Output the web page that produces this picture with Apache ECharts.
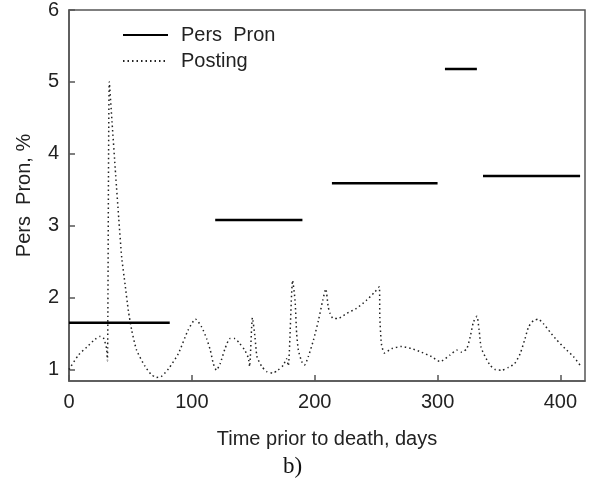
<!DOCTYPE html>
<html>
<head>
<meta charset="utf-8">
<script src="https://cdn.jsdelivr.net/npm/echarts@6/dist/echarts.min.js"></script>
<style>
html,body{margin:0;padding:0;background:#fff;}
#chart{width:598px;height:479px;}
</style>
</head>
<body>
<div id="chart"></div>
<script>
// Data
const xTicks = [0, 100, 200, 300, 400];
const yTicks = [1, 2, 3, 4, 5, 6];

// Pers Pron: horizontal segments [start, end, value]
const persPronStart = [0, 119, 214, 306, 337];
const persPronEnd   = [82, 190, 300, 332, 416];
const persPronValue = [1.65, 3.08, 3.59, 5.18, 3.69];

// Posting curve
const postingX = [0, 7.6, 14.4, 21.2, 25.2, 28, 30.5, 31.3, 32.8, 35, 38, 40.5, 42.9, 45.6, 48.3, 51, 55, 62, 67, 71, 75, 81, 89, 97, 103, 108, 112, 115, 117.5, 120, 123, 127, 131, 135, 139, 143, 146, 147, 149.3, 151.4, 153, 157, 161, 166, 170, 174.5, 177, 178.5, 182, 184, 185.3, 186.7, 189.4, 191.6, 194.8, 199, 203, 206.5, 209, 211, 212.5, 215, 219, 226, 234, 242, 249, 252.6, 253, 254.3, 256.7, 262.6, 270.8, 279, 287, 295, 302, 310, 315.6, 319.7, 323.8, 326.5, 329.2, 332, 333.8, 335.4, 338.7, 342.8, 346.8, 352.3, 357.7, 362.6, 367.2, 371.2, 374, 378, 382, 386, 391.6, 397, 403.8, 410.6, 416];
const postingY = [1.0, 1.2, 1.31, 1.42, 1.46, 1.44, 1.3, 1.12, 5.0, 4.45, 3.7, 3.1, 2.56, 2.19, 1.82, 1.55, 1.27, 1.04, 0.93, 0.89, 0.9, 1.01, 1.22, 1.55, 1.7, 1.59, 1.43, 1.27, 1.08, 0.99, 1.08, 1.29, 1.43, 1.43, 1.36, 1.27, 1.16, 1.04, 1.72, 1.45, 1.18, 1.04, 0.97, 0.95, 0.99, 1.06, 1.15, 1.05, 2.24, 1.96, 1.5, 1.27, 1.11, 1.06, 1.18, 1.41, 1.68, 1.96, 2.12, 1.87, 1.78, 1.71, 1.71, 1.78, 1.85, 1.96, 2.08, 2.15, 1.73, 1.36, 1.23, 1.29, 1.32, 1.29, 1.24, 1.18, 1.11, 1.2, 1.27, 1.24, 1.29, 1.45, 1.66, 1.74, 1.55, 1.31, 1.18, 1.06, 1.0, 0.99, 1.03, 1.08, 1.22, 1.43, 1.59, 1.68, 1.7, 1.64, 1.52, 1.41, 1.29, 1.18, 1.06];

const persPronData = [];
for (let i = 0; i < persPronStart.length; i++) {
  if (i > 0) persPronData.push([persPronStart[i], '-']);
  persPronData.push([persPronStart[i], persPronValue[i]]);
  persPronData.push([persPronEnd[i], persPronValue[i]]);
}
const postingData = postingX.map((x, i) => [x, postingY[i]]);

const FONT = 'Liberation Sans, Arial, sans-serif';
const AX = '#555';
const chart = echarts.init(document.getElementById('chart'), null, {renderer: 'canvas'});
chart.setOption({
  animation: false,
  backgroundColor: '#fff',
  grid: {left: 69, right: 13, top: 9, bottom: 98, show: true, borderColor: AX, borderWidth: 1.5, backgroundColor: 'transparent'},
  legend: {
    orient: 'vertical', left: 122, top: 25, itemWidth: 45, itemHeight: 14, itemGap: 6, padding: 0,
    itemStyle: {opacity: 0},
    textStyle: {fontFamily: FONT, fontSize: 20, color: '#222', padding: [0, 0, 0, 8]},
    data: ['Pers  Pron', 'Posting']
  },
  xAxis: {
    type: 'value', min: 0, max: 420,
    name: 'Time prior to death, days', nameLocation: 'middle', nameGap: 48,
    nameTextStyle: {fontFamily: FONT, fontSize: 20, color: '#222'},
    axisLine: {show: true, lineStyle: {color: AX, width: 1.5}},
    axisTick: {show: true, inside: true, length: 6, customValues: xTicks, lineStyle: {color: AX, width: 1.5}},
    axisLabel: {margin: 11, customValues: xTicks, fontFamily: FONT, fontSize: 20, color: '#222'},
    splitLine: {show: false}
  },
  yAxis: {
    type: 'value', min: 0.84, max: 6,
    name: 'Pers  Pron, %', nameLocation: 'middle', nameGap: 35,
    nameTextStyle: {fontFamily: FONT, fontSize: 20, color: '#222'},
    axisLine: {show: true, lineStyle: {color: AX, width: 1.5}},
    axisTick: {show: true, inside: true, length: 6, customValues: yTicks, lineStyle: {color: AX, width: 1.5}},
    axisLabel: {margin: 10, customValues: yTicks, fontFamily: FONT, fontSize: 20, color: '#222'},
    splitLine: {show: false}
  },
  series: [
    {
      name: 'Pers  Pron', type: 'line', data: persPronData, symbol: 'none', showSymbol: false,
      connectNulls: false, lineStyle: {color: '#000', width: 2.5}, itemStyle: {color: '#000'}, z: 3
    },
    {
      name: 'Posting', type: 'line', data: postingData, symbol: 'none', showSymbol: false, smooth: 0.2,
      lineStyle: {color: '#222', width: 1.5, type: [1.5, 3]}, itemStyle: {color: '#222'}, z: 2
    }
  ],
  graphic: [{
    type: 'text', left: 283, top: 455,
    style: {text: 'b)', font: '23px "Liberation Serif", "Times New Roman", serif', fill: '#111'}
  }]
});
</script>
</body>
</html>
